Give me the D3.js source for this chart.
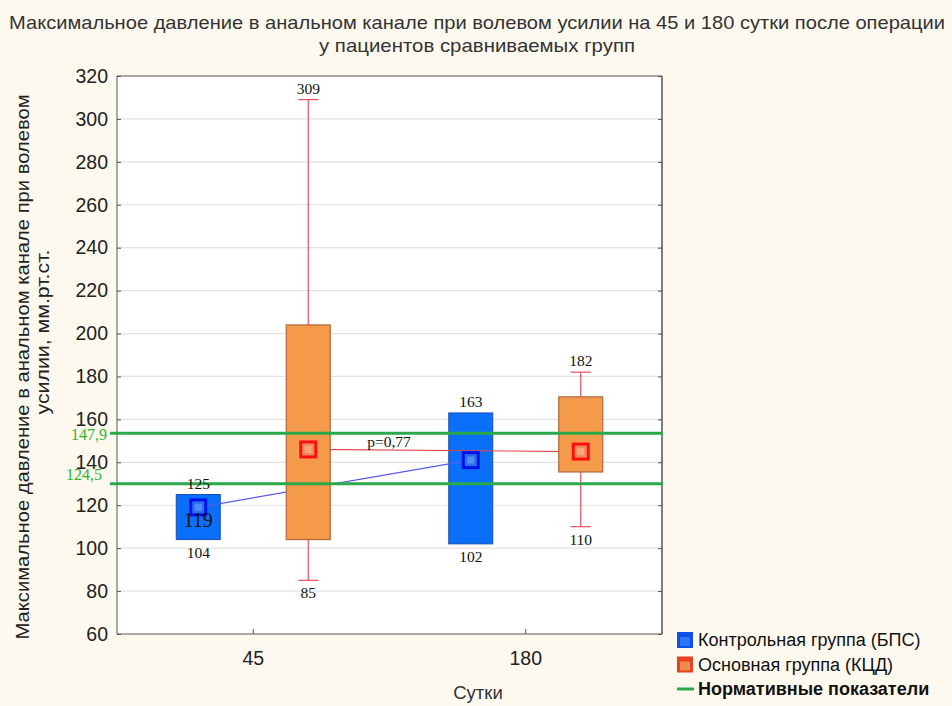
<!DOCTYPE html>
<html>
<head>
<meta charset="utf-8">
<script src="https://cdn.jsdelivr.net/npm/d3@7"></script>
<style>
  body { margin: 0; background: #fdf9ef; }
  svg { display: block; }
  .sans { font-family: "Liberation Sans", Arial, sans-serif; }
  .serif { font-family: "Liberation Serif", "Times New Roman", serif; }
</style>
</head>
<body>
<div id="chart"></div>
<script>
// --- dati ---
const days = ["45", "180"];
const groups = ["control", "main"];

// gruppo di controllo (БПС): solo box, senza baffi
const controlQ1 = [104, 102];
const controlQ3 = [125, 163];
const controlMed = [119, 141];

// gruppo principale (КЦД): box + baffi
const mainQ1 = [104, 135.5];
const mainQ3 = [204, 170.5];
const mainMin = [85, 110];
const mainMax = [309, 182];
const mainMed = [146, 145];

// linee dei valori normativi (posizione disegnata e etichetta)
const normValues = [153.5, 130];
const normLabels = ["147,9", "124,5"];

const yTicks = d3.range(60, 321, 20);
const titleLines = [
  "Максимальное давление в анальном канале при волевом усилии на 45 и 180 сутки после операции",
  "у пациентов сравниваемых групп"
];
const yLabelLines = ["Максимальное давление в анальном канале при волевом", "усилии, мм.рт.ст."];
const legendItems = ["Контрольная группа (БПС)", "Основная группа (КЦД)", "Нормативные показатели"];

const width = 952, height = 706;
const plot = { left: 117, right: 662, top: 76, bottom: 634 };

const svg = d3.select("#chart").append("svg")
  .attr("width", width).attr("height", height);

const x = d3.scaleBand().domain(days).range([plot.left, plot.right]);
const xOff = d3.scalePoint().domain(groups).range([-55, 55]);
const y = d3.scaleLinear().domain([60, 320]).range([plot.bottom, plot.top]);
const cx = (i, g) => x(days[i]) + x.bandwidth() / 2 + xOff(g);
const boxW = 44;

// titolo
svg.append("g").selectAll("text").data(titleLines).join("text")
  .attr("class", "sans").attr("x", 477).attr("y", (d, i) => 29 + i * 23)
  .attr("text-anchor", "middle").attr("font-size", 19).attr("fill", "#333")
  .attr("textLength", (d, i) => i ? 316 : 936).attr("lengthAdjust", "spacingAndGlyphs")
  .text(d => d);

// area del grafico
svg.append("rect").attr("x", plot.left).attr("y", plot.top)
  .attr("width", plot.right - plot.left).attr("height", plot.bottom - plot.top)
  .attr("fill", "#fff");

// griglia
svg.append("g").selectAll("line").data(yTicks.slice(1, -1)).join("line")
  .attr("x1", plot.left).attr("x2", plot.right)
  .attr("y1", d => y(d)).attr("y2", d => y(d))
  .attr("stroke", "#e2e2e2").attr("stroke-width", 1.2);

// assi
const yAxisL = svg.append("g").attr("transform", `translate(${plot.left},0)`)
  .call(d3.axisLeft(y).tickValues(yTicks).tickSize(-4).tickPadding(9));
const yAxisR = svg.append("g").attr("transform", `translate(${plot.right},0)`)
  .call(d3.axisRight(y).tickValues(yTicks).tickSize(-4).tickFormat(""));
const xAxis = svg.append("g").attr("transform", `translate(0,${plot.bottom})`)
  .call(d3.axisBottom(x).tickSize(-5).tickPadding(17));
const xAxisT = svg.append("g").attr("transform", `translate(0,${plot.top})`)
  .call(d3.axisTop(x).tickSize(0).tickFormat(""));
[yAxisL, yAxisR, xAxis, xAxisT].forEach(a => {
  a.select(".domain").attr("stroke", "#555");
  a.selectAll(".tick line").attr("stroke", "#555");
  a.selectAll("text").attr("class", "sans").attr("font-size", 19.5).attr("fill", "#222");
});
yAxisL.select(".domain").attr("d", `M0,${plot.top}V${plot.bottom}`);
yAxisR.select(".domain").attr("d", `M0,${plot.top}V${plot.bottom}`).attr("stroke-width", 1.5);
xAxis.select(".domain").attr("d", `M${plot.left},0H${plot.right}`);
xAxisT.select(".domain").attr("d", `M${plot.left},0H${plot.right}`);

// etichette degli assi
svg.append("text").attr("class", "sans").attr("x", 478).attr("y", 699)
  .attr("text-anchor", "middle").attr("font-size", 18.5).attr("fill", "#333").text("Сутки");
svg.append("g").selectAll("text").data(yLabelLines).join("text")
  .attr("class", "sans").attr("font-size", 19).attr("fill", "#222")
  .attr("text-anchor", "middle")
  .attr("textLength", (d, i) => i ? 165 : 545).attr("lengthAdjust", "spacingAndGlyphs")
  .attr("transform", (d, i) => `translate(${29 + i * 20},${i ? 332 : 367}) rotate(-90)`)
  .text(d => d);

// box del gruppo di controllo
const ctrl = svg.append("g");
ctrl.selectAll("rect").data(days).join("rect")
  .attr("x", (d, i) => cx(i, "control") - boxW / 2)
  .attr("y", (d, i) => y(controlQ3[i]))
  .attr("width", boxW)
  .attr("height", (d, i) => y(controlQ1[i]) - y(controlQ3[i]))
  .attr("fill", "#0a70fb").attr("stroke", "#1a4fb0").attr("stroke-width", 1);

// linee che collegano le mediane
const line = d3.line().x(d => d[0]).y(d => d[1]);
svg.append("path")
  .attr("d", line(days.map((d, i) => [cx(i, "control"), y(controlMed[i])])))
  .attr("fill", "none").attr("stroke", "#5a5ae6").attr("stroke-width", 1.2);
svg.append("path")
  .attr("d", line(days.map((d, i) => [cx(i, "main"), y(mainMed[i])])))
  .attr("fill", "none").attr("stroke", "#e2444c").attr("stroke-width", 1.2);

// baffi del gruppo principale
const wh = svg.append("g").attr("stroke", "#e0505e").attr("stroke-width", 1.2);
days.forEach((d, i) => {
  const c = cx(i, "main");
  wh.append("line").attr("x1", c).attr("x2", c).attr("y1", y(mainMax[i])).attr("y2", y(mainMin[i]));
  [mainMax[i], mainMin[i]].forEach(v => {
    wh.append("line").attr("x1", c - 10).attr("x2", c + 10).attr("y1", y(v)).attr("y2", y(v));
  });
});

// box del gruppo principale
svg.append("g").selectAll("rect").data(days).join("rect")
  .attr("x", (d, i) => cx(i, "main") - boxW / 2)
  .attr("y", (d, i) => y(mainQ3[i]))
  .attr("width", boxW)
  .attr("height", (d, i) => y(mainQ1[i]) - y(mainQ3[i]))
  .attr("fill", "#f49a4a").attr("stroke", "#b0683a").attr("stroke-width", 1.2);

// linee normative
const norm = svg.append("g");
norm.selectAll("line").data(normValues).join("line")
  .attr("x1", 110).attr("x2", plot.right + 1)
  .attr("y1", d => y(d)).attr("y2", d => y(d))
  .attr("stroke", "#2aa84a").attr("stroke-width", 3);
norm.selectAll("text").data(normLabels).join("text")
  .attr("class", "serif").attr("font-size", 16).attr("fill", "#2db52d")
  .attr("x", (d, i) => i ? 102 : 107).attr("text-anchor", "end")
  .attr("y", (d, i) => y(normValues[i]) + (i ? -4 : 7))
  .text(d => d);

// marcatori delle mediane
function marker(g, c, v, stroke, fill, inner) {
  g.append("rect").attr("x", c - 7.5).attr("y", y(v) - 7.5).attr("width", 15).attr("height", 15)
    .attr("fill", fill).attr("stroke", stroke).attr("stroke-width", 3);
  g.append("rect").attr("x", c - 3.5).attr("y", y(v) - 3.5).attr("width", 7).attr("height", 7)
    .attr("fill", inner).attr("stroke", "none");
}
const mk = svg.append("g");
days.forEach((d, i) => {
  marker(mk, cx(i, "control"), controlMed[i], "#0010e8", "#2a6ef0", "#4f8ef2");
  marker(mk, cx(i, "main"), mainMed[i], "#ff1010", "#f08a58", "#f6a878");
});

// etichette numeriche
const lab = svg.append("g").attr("class", "serif").attr("font-size", 15.5)
  .attr("fill", "#111").attr("text-anchor", "middle");
days.forEach((d, i) => {
  lab.append("text").attr("x", cx(i, "control")).attr("y", y(controlQ3[i]) - 6).text(controlQ3[i]);
  lab.append("text").attr("x", cx(i, "control")).attr("y", y(controlQ1[i]) + 18).text(controlQ1[i]);
  lab.append("text").attr("x", cx(i, "main")).attr("y", y(mainMax[i]) - 6).text(mainMax[i]);
  lab.append("text").attr("x", cx(i, "main")).attr("y", y(mainMin[i]) + 18).text(mainMin[i]);
});
lab.append("text").attr("x", cx(0, "control")).attr("y", y(controlMed[0]) + 20)
  .attr("font-size", 20).text(controlMed[0]);
lab.append("text").attr("x", 389).attr("y", y(mainMed[1]) - 5).text("p=0,77");

// legenda
const leg = svg.append("g").attr("class", "sans").attr("font-size", 18).attr("fill", "#111");
const legColors = [["#1050e8", "#2a78f8"], ["#e84020", "#f08a50"]];
legendItems.forEach((t, i) => {
  const yy = 640 + i * 24.5;
  if (i < 2) {
    leg.append("rect").attr("x", 677).attr("y", yy - 8).attr("width", 16).attr("height", 16)
      .attr("fill", legColors[i][0]);
    leg.append("rect").attr("x", 680).attr("y", yy - 3).attr("width", 10).attr("height", 9)
      .attr("fill", legColors[i][1]);
  } else {
    leg.append("line").attr("x1", 677).attr("x2", 694).attr("y1", yy).attr("y2", yy)
      .attr("stroke", "#2aa84a").attr("stroke-width", 3);
  }
  leg.append("text").attr("x", 698).attr("y", yy + 6)
    .attr("font-weight", i === 2 ? "bold" : "normal").text(t);
});
</script>
</body>
</html>
